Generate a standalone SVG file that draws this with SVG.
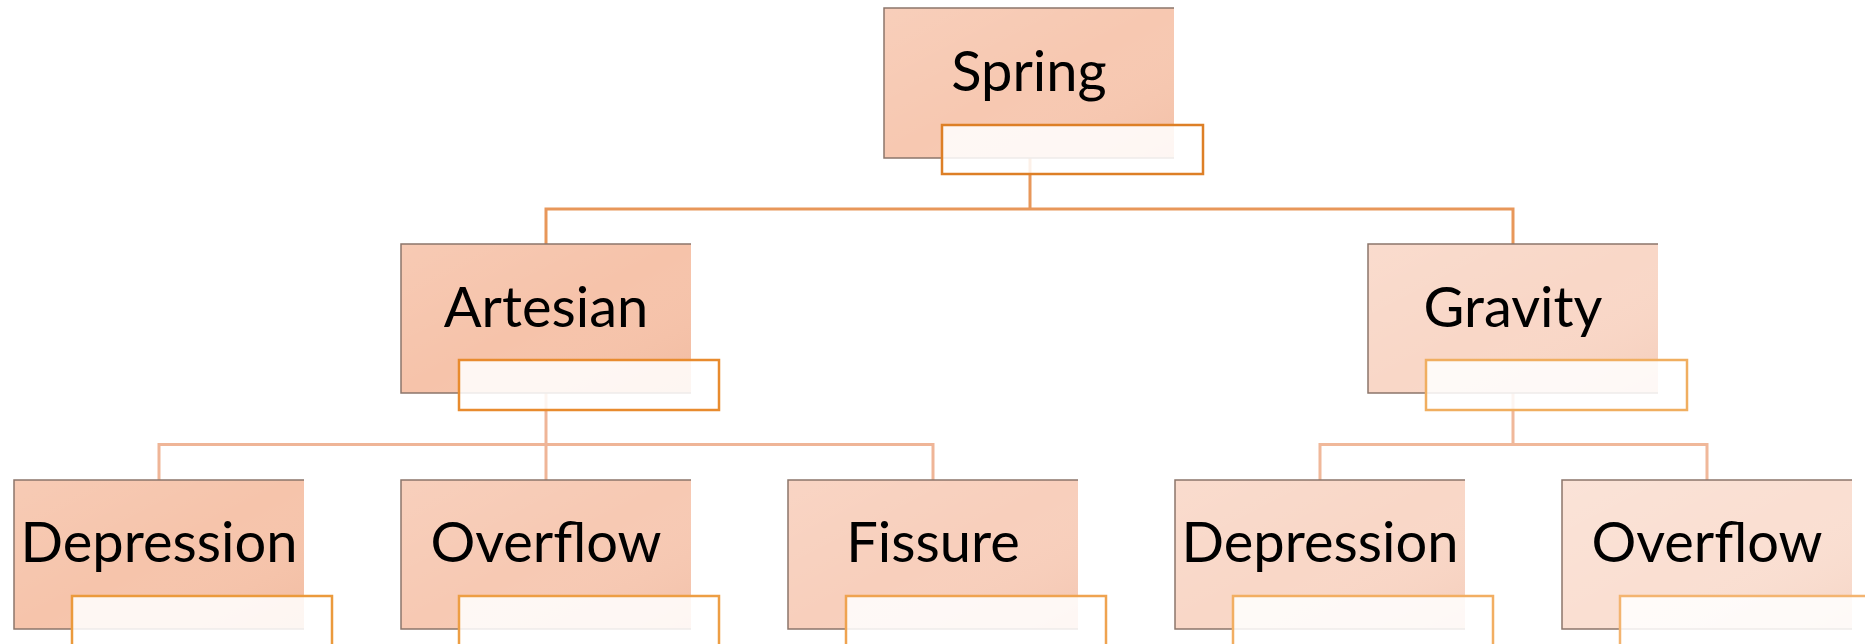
<svg xmlns="http://www.w3.org/2000/svg" width="1865" height="644" viewBox="0 0 1865 644">
<defs>
<linearGradient id="shade" x1="0" y1="0" x2="1" y2="1">
<stop offset="0" stop-color="#ffffff" stop-opacity="0.12"/>
<stop offset="0.5" stop-color="#ffffff" stop-opacity="0"/>
<stop offset="1" stop-color="#c86a3c" stop-opacity="0.10"/>
</linearGradient>
<style>
.lbl{font-family:Lato,"Open Sans",sans-serif;font-size:56px;fill:#000;text-anchor:middle}
.edge{fill:none;stroke:#8c766b;stroke-width:1.5}
.tag{fill:#ffffff;fill-opacity:0.86;stroke-width:2.5}
.conn{fill:none;stroke-width:3}
</style>
</defs>
<rect width="1865" height="644" fill="#ffffff"/>
<g id="connectors">
<path class="conn" stroke="#e8975a" d="M1030,158 V209 M546,244 V209 H1513 V244"/>
<path class="conn" stroke="#efb597" d="M546,393 V444.5 M159,480 V444.5 H933 V480 M546,444.5 V480"/>
<path class="conn" stroke="#f0b89a" d="M1513,393 V444.5 M1320,480 V444.5 H1707 V480"/>
</g>
<g id="node-spring">
<rect x="884" y="8" width="290" height="150" fill="#f7c8b1"/>
<rect x="884" y="8" width="290" height="150" fill="url(#shade)"/>
<path class="edge" d="M1174,8 H884 V158 H1174"/>
<text class="lbl" x="1029" y="91">Spring</text>
<rect class="tag" x="942" y="125" width="261" height="49" stroke="#dd7f26"/>
</g>
<g id="node-artesian">
<rect x="401" y="244" width="290" height="149" fill="#f6c3aa"/>
<rect x="401" y="244" width="290" height="149" fill="url(#shade)"/>
<path class="edge" d="M691,244 H401 V393 H691"/>
<text class="lbl" x="546" y="327">Artesian</text>
<rect class="tag" x="459" y="360" width="260" height="50" stroke="#e88b2e"/>
</g>
<g id="node-gravity">
<rect x="1368" y="244" width="290" height="149" fill="#f9d7c7"/>
<rect x="1368" y="244" width="290" height="149" fill="url(#shade)"/>
<path class="edge" d="M1658,244 H1368 V393 H1658"/>
<text class="lbl" x="1513" y="327">Gravity</text>
<rect class="tag" x="1426" y="360" width="261" height="50" stroke="#f0ae60"/>
</g>
<g id="node-depression-1">
<rect x="14" y="480" width="290" height="149" fill="#f6c4ab"/>
<rect x="14" y="480" width="290" height="149" fill="url(#shade)"/>
<path class="edge" d="M304,480 H14 V629 H304"/>
<text class="lbl" x="159" y="562">Depression</text>
<rect class="tag" x="72" y="596" width="260" height="60" stroke="#eb9a3c"/>
</g>
<g id="node-overflow-1">
<rect x="401" y="480" width="290" height="149" fill="#f7c9b3"/>
<rect x="401" y="480" width="290" height="149" fill="url(#shade)"/>
<path class="edge" d="M691,480 H401 V629 H691"/>
<text class="lbl" x="546" y="562">Overflow</text>
<rect class="tag" x="459" y="596" width="260" height="60" stroke="#ed9e44"/>
</g>
<g id="node-fissure">
<rect x="788" y="480" width="290" height="149" fill="#f8cfbc"/>
<rect x="788" y="480" width="290" height="149" fill="url(#shade)"/>
<path class="edge" d="M1078,480 H788 V629 H1078"/>
<text class="lbl" x="933" y="562">Fissure</text>
<rect class="tag" x="846" y="596" width="260" height="60" stroke="#efa350"/>
</g>
<g id="node-depression-2">
<rect x="1175" y="480" width="290" height="149" fill="#f9d7c7"/>
<rect x="1175" y="480" width="290" height="149" fill="url(#shade)"/>
<path class="edge" d="M1465,480 H1175 V629 H1465"/>
<text class="lbl" x="1320" y="562">Depression</text>
<rect class="tag" x="1233" y="596" width="260" height="60" stroke="#f2ae62"/>
</g>
<g id="node-overflow-2">
<rect x="1562" y="480" width="290" height="149" fill="#fadfd2"/>
<rect x="1562" y="480" width="290" height="149" fill="url(#shade)"/>
<path class="edge" d="M1852,480 H1562 V629 H1852"/>
<text class="lbl" x="1707" y="562">Overflow</text>
<rect class="tag" x="1620" y="596" width="260" height="60" stroke="#f3b470"/>
</g>
</svg>
